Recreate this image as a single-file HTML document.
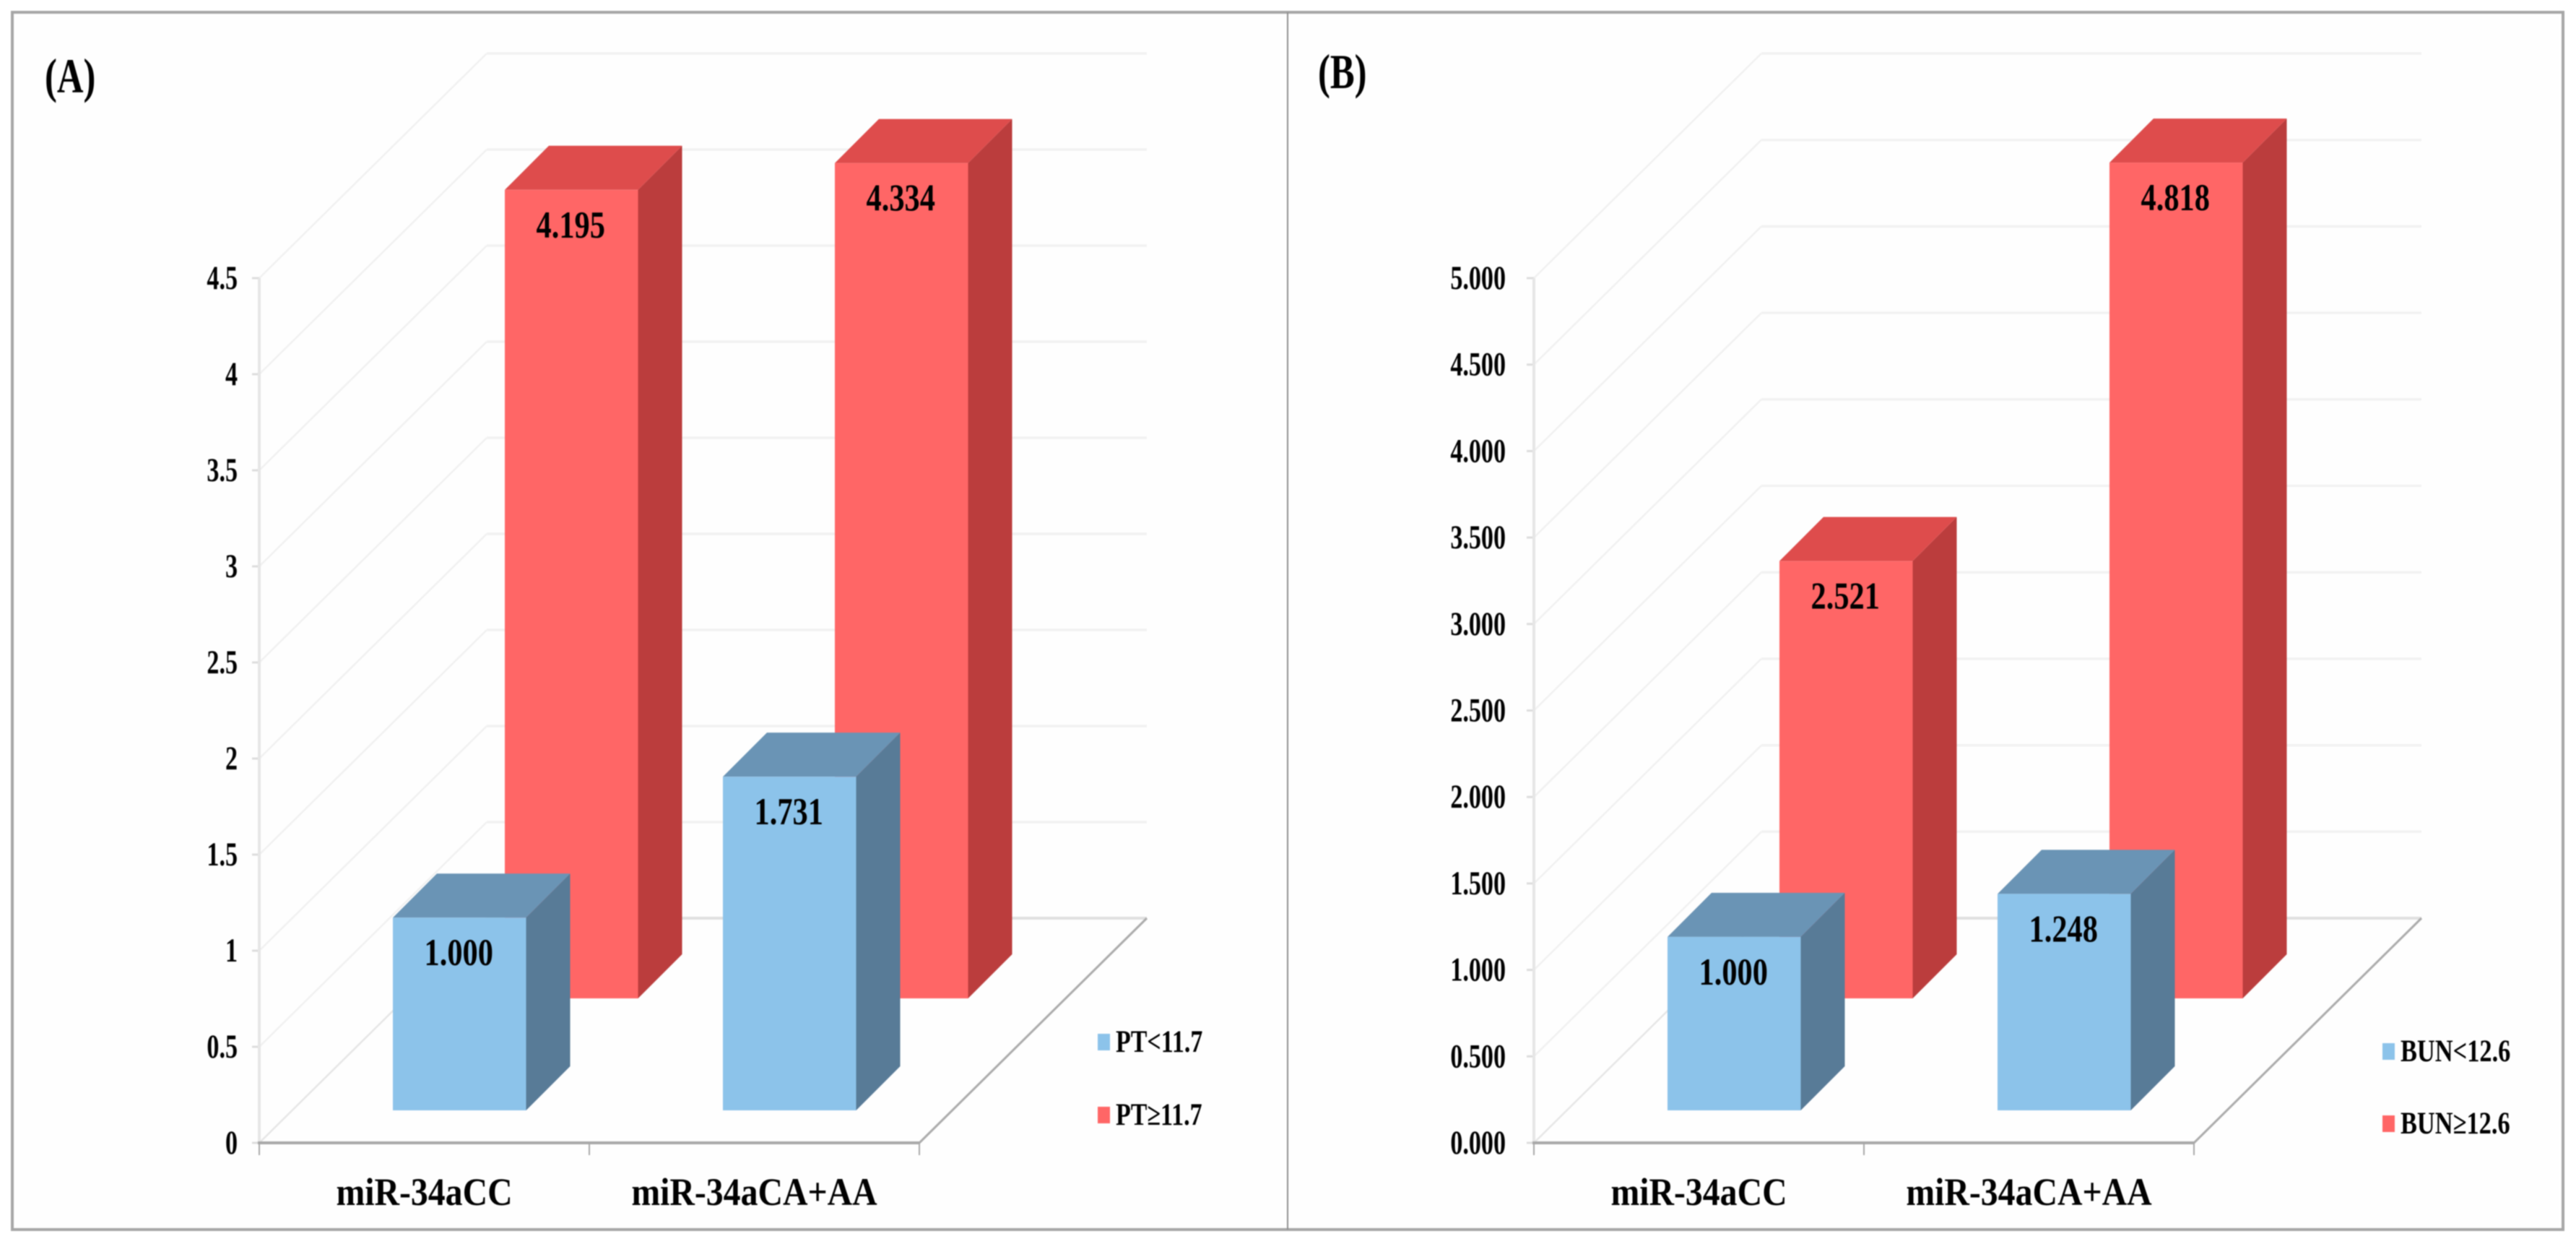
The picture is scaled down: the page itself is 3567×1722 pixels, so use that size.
<!DOCTYPE html>
<html>
<head>
<meta charset="utf-8">
<title>miR-34a genotype charts</title>
<style>
html,body{margin:0;padding:0;background:#fff;width:3567px;height:1722px;overflow:hidden}
svg{display:block;filter:blur(0.8px)}
text{font-family:"Liberation Serif","DejaVu Serif",serif;font-weight:bold;fill:#000}
</style>
</head>
<body>
<svg id="root" xmlns="http://www.w3.org/2000/svg" width="3567" height="1722" viewBox="0 0 3567 1722">
  <rect x="0" y="0" width="3567" height="1722" fill="#ffffff"/>
  <rect x="17" y="17" width="3532" height="1685" fill="#fefefe" stroke="#a6a6a6" stroke-width="4"/>
  <line x1="1783" y1="17" x2="1783" y2="1702" stroke="#8e8e8e" stroke-width="2"/>
</svg>
<script>
// Chart data
const categories = ['miR-34aCC', 'miR-34aCA+AA'];
const panelATicks = ['0', '0.5', '1', '1.5', '2', '2.5', '3', '3.5', '4', '4.5'];
const panelBTicks = ['0.000', '0.500', '1.000', '1.500', '2.000', '2.500', '3.000', '3.500', '4.000', '4.500', '5.000'];
const panelALow = [1.000, 1.731];
const panelAHigh = [4.195, 4.334];
const panelBLow = [1.000, 1.248];
const panelBHigh = [2.521, 4.818];
const panelALegend = ['PT<11.7', 'PT\u226511.7'];
const panelBLegend = ['BUN<12.6', 'BUN\u226512.6'];

const NS = 'http://www.w3.org/2000/svg';
const root = document.getElementById('root');

function mk(tag, attrs, parent) {
  const el = document.createElementNS(NS, tag);
  for (const k in attrs) el.setAttribute(k, attrs[k]);
  parent.appendChild(el);
  return el;
}
function txt(parent, x, y, str, size, sx, anchor) {
  const el = mk('text', {
    x: 0, y: 0,
    transform: 'translate(' + x + ',' + y + ') scale(' + sx + ',1)',
    'font-size': size,
    'text-anchor': anchor
  }, parent);
  el.textContent = str;
  return el;
}
function pts(a) {
  return a.map(function (p) { return p[0] + ',' + p[1]; }).join(' ');
}

const Y0 = 1582, PLOT_H = 1197, DX = 315, DY = 311, CAT_W = 457;
const BAR_OFF = 140, BAR_W = 184.5, BAR_D = 61, BAR_STRETCH = 1.003;

function drawBar(g, name, x0, cat, value, yScale, depth, colors) {
  const left = x0 + BAR_OFF + cat * CAT_W + depth;
  const right = left + BAR_W;
  const bottom = Y0 - depth;
  const top = bottom - yScale(value) * BAR_STRETCH;

  const side = mk('polygon', { points: pts([[right, top], [right + BAR_D, top - BAR_D], [right + BAR_D, bottom - BAR_D], [right, bottom]]), fill: colors.side }, g);
  
  

  const cap = mk('polygon', { points: pts([[left, top], [left + BAR_D, top - BAR_D], [right + BAR_D, top - BAR_D], [right, top]]), fill: colors.top }, g);
  
  

  const face = mk('rect', { x: left, y: top, width: BAR_W, height: bottom - top, fill: colors.front }, g);
  
  

  const label = txt(g, left + BAR_W / 2 - 1, top + 66, value.toFixed(3), 53, 0.8, 'middle');
  
  
}

function drawPanel(p) {
  const g = mk('g', {}, root);
  
  

  const x0 = p.x0;
  const max = parseFloat(p.ticks[p.ticks.length - 1]);
  const yScale = function (v) { return v / max * PLOT_H; };
  const xEnd = x0 + CAT_W * categories.length;

  // back wall gridlines and side-wall diagonals
  p.ticks.forEach(function (t) {
    const v = parseFloat(t);
    const y = Y0 - yScale(v);
    const isBase = v === 0;
    const diag = mk('line', { x1: x0, y1: y, x2: x0 + DX, y2: y - DY, stroke: isBase ? '#e6e6e6' : '#f1f1f1', 'stroke-width': 2.5 }, g);
    
    

    const back = mk('line', { x1: x0 + DX, y1: y - DY, x2: xEnd + DX, y2: y - DY, stroke: isBase ? '#dfdfdf' : '#f2f2f2', 'stroke-width': isBase ? 4 : 3.5 }, g);
    
    

    const tick = mk('line', { x1: x0 - 10, y1: y, x2: x0, y2: y, stroke: '#dddddd', 'stroke-width': 3 }, g);
    
    

    const label = txt(g, x0 - p.tickGap, y + 15, t, 47, 0.725, 'end');
    
    
  });

  const yAxis = mk('line', { x1: x0, y1: Y0, x2: x0, y2: Y0 - PLOT_H, stroke: '#e6e6e6', 'stroke-width': 4 }, g);
  
  

  const floorEdge = mk('line', { x1: xEnd, y1: Y0, x2: xEnd + DX, y2: Y0 - DY, stroke: '#ababab', 'stroke-width': 3 }, g);
  
  

  const xAxis = mk('line', { x1: x0 - 2, y1: Y0, x2: xEnd, y2: Y0, stroke: '#a8a8a8', 'stroke-width': 4 }, g);
  
  

  for (let i = 0; i <= categories.length; i++) {
    const tx = x0 + i * CAT_W;
    const xTick = mk('line', { x1: tx, y1: Y0, x2: tx, y2: Y0 + 17, stroke: '#a8a8a8', 'stroke-width': 2 }, g);
    
    
  }

  categories.forEach(function (c, i) {
    const cat = txt(g, x0 + (i + 0.5) * CAT_W, 1668, c, 54, 0.885, 'middle');
    
    
  });

  // rear series first, then the front series over it
  p.high.forEach(function (v, i) {
    drawBar(g, 'bar-high-' + categories[i].toLowerCase(), x0, i, v, yScale, 200, { front: '#ff6666', side: '#bb3d3d', top: '#de4c4c' });
  });
  p.low.forEach(function (v, i) {
    drawBar(g, 'bar-low-' + categories[i].toLowerCase(), x0, i, v, yScale, 45, { front: '#8cc3ea', side: '#587b97', top: '#6a94b5' });
  });

  const title = txt(g, p.titleX, p.titleY, p.title, 68, 0.745, 'start');
  
  

  p.legend.forEach(function (s, i) {
    const swatch = mk('rect', { x: p.legendX, y: p.legendY[i], width: 17, height: 23, fill: i === 0 ? '#8cc3ea' : '#ff6666' }, g);
    
    

    const entry = txt(g, p.legendX + 25, p.legendY[i] + 25, s, 43, p.legendSx, 'start');
    
    
  });
}

drawPanel({
  id: 'a', title: '(A)', titleX: 62, titleY: 128, x0: 359, tickGap: 30,
  ticks: panelATicks, low: panelALow, high: panelAHigh,
  legend: panelALegend, legendX: 1520, legendY: [1431, 1532], legendSx: 0.79
});
drawPanel({
  id: 'b', title: '(B)', titleX: 1825, titleY: 122, x0: 2124, tickGap: 39,
  ticks: panelBTicks, low: panelBLow, high: panelBHigh,
  legend: panelBLegend, legendX: 3299, legendY: [1444, 1544], legendSx: 0.8
});
</script>
</body>
</html>
